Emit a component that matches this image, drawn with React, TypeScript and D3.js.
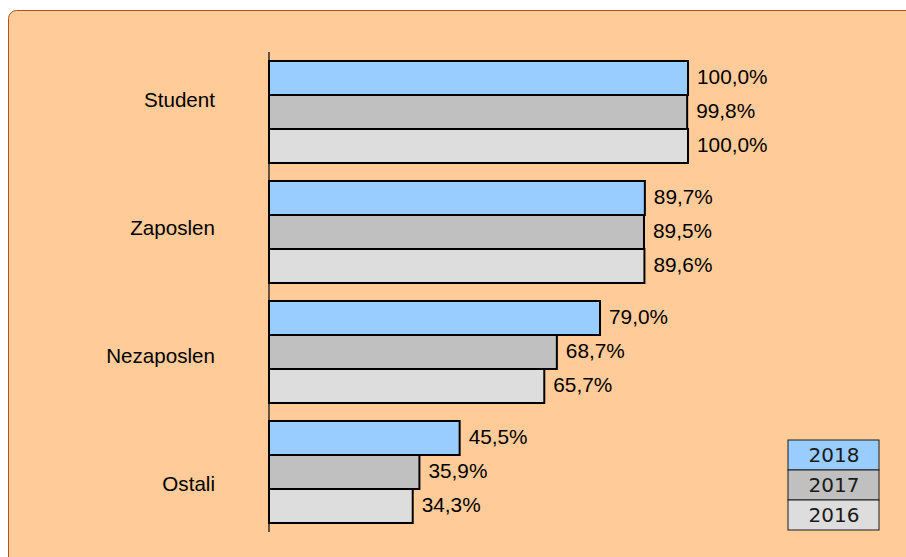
import React from 'react'
import * as d3 from 'd3'

const categories = ['Student', 'Zaposlen', 'Nezaposlen', 'Ostali']
const years = ['2018', '2017', '2016']
const values2018 = [100.0, 89.7, 79.0, 45.5]
const values2017 = [99.8, 89.5, 68.7, 35.9]
const values2016 = [100.0, 89.6, 65.7, 34.3]
const yearColors = ['#99ccff', '#c0c0c0', '#dddddd']

const series = [values2018, values2017, values2016]

const width = 906
const height = 557

export default function App() {
    const xScale = d3.scaleLinear().domain([0, 100]).range([269, 688])

    // one band per category
    const yScale = d3.scaleBand<string>()
        .domain(categories)
        .range([52, 532])
        .paddingInner(0.15)
        .paddingOuter(0.075)

    // label positions sit a bit off the group centres in the original
    const labelScale = d3.scaleBand<string>()
        .domain(categories)
        .range([38, 550])

    const inner = d3.scaleBand<string>()
        .domain(years)
        .range([0, yScale.bandwidth()])

    const fmt = (v: number) => d3.format('.1f')(v).replace('.', ',') + '%'

    return (
        <svg width={width} height={height} style={{ position: 'absolute', left: 0, top: 0 }}>
            <rect x={8.5} y={10.5} width={width + 20} height={height + 20} rx={8}
                fill="#ffcc99" stroke="#b5521f" strokeWidth={1} />

            {categories.map((c, ci) => (
                <g key={c}>
                    <text x={215} y={(labelScale(c) || 0) + labelScale.bandwidth() / 2}
                        textAnchor="end" dominantBaseline="middle"
                        fontFamily="Liberation Sans, Arial, sans-serif" fontSize={20.6} fill="#000">
                        {c}
                    </text>
                    {years.map((yr, si) => {
                        const v = series[si][ci]
                        const y = (yScale(c) || 0) + (inner(yr) || 0)
                        return (
                            <g key={yr}>
                                <rect x={xScale(0)} y={y} width={xScale(v) - xScale(0)}
                                    height={inner.bandwidth()} fill={yearColors[si]}
                                    stroke="#000" strokeWidth={2} />
                                <text x={xScale(v) + 9} y={y + inner.bandwidth() / 2}
                                    dominantBaseline="middle"
                                    fontFamily="Liberation Sans, Arial, sans-serif"
                                    fontSize={20.8} fill="#000">
                                    {fmt(v)}
                                </text>
                            </g>
                        )
                    })}
                </g>
            ))}

            <line x1={269} x2={269} y1={52} y2={532} stroke="#000" strokeWidth={1.2} />

            <g>
                {years.map((yr, i) => (
                    <g key={yr}>
                        <rect x={788} y={440 + i * 30} width={91} height={30}
                            fill={yearColors[i]} stroke="#1a1a1a" strokeWidth={1} />
                        <text x={834} y={455 + i * 30 + 1} textAnchor="middle"
                            dominantBaseline="middle"
                            fontFamily="DejaVu Sans, Verdana, sans-serif" fontSize={20} fill="#1a1a1a">
                            {yr}
                        </text>
                    </g>
                ))}
            </g>
        </svg>
    )
}
